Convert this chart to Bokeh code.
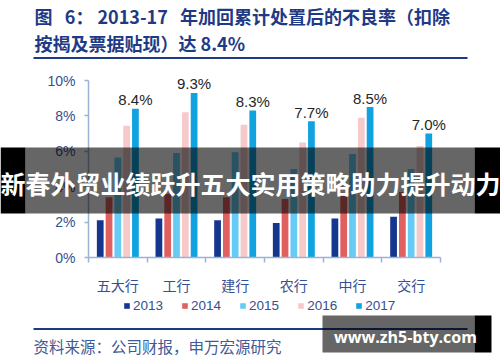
from bokeh.plotting import figure
from bokeh.models import (ColumnDataSource, FixedTicker, PrintfTickFormatter, CustomJSTickFormatter,
                          Label, BoxAnnotation, Legend, LegendItem, Range1d)
from bokeh.transform import dodge
from bokeh.core.properties import value
from bokeh.embed import file_html
from bokeh.resources import INLINE

# ---------------- data ----------------
banks = ["五大行", "工行", "建行", "农行", "中行", "交行"]
years = ["2013", "2014", "2015", "2016", "2017"]
npl_2013 = [2.1, 2.2, 2.1, 1.95, 2.2, 2.3]
npl_2014 = [3.4, 3.6, 3.4, 3.3, 3.6, 3.7]
npl_2015 = [5.65, 5.9, 5.95, 5.0, 5.85, 5.0]
npl_2016 = [7.45, 8.2, 7.5, 6.5, 7.9, 6.3]
npl_2017 = [8.4, 9.3, 8.3, 7.7, 8.5, 7.0]
y_ticks = [0, 2, 4, 6, 8, 10]

NB = "\u00a0"
title_line1 = "图" + NB * 3 + "6：" + NB + "2013-17" + NB * 3 + "年加回累计处置后的不良率（扣除"
title_line2 = "按揭及票据贴现）达 8.4%"
source_text = "资料来源：公司财报，申万宏源研究"
banner_text = "新春外贸业绩跃升五大实用策略助力提升动力"
watermark_text = "www.zh5-bty.com"

colors = ["#14368E", "#E0605F", "#66CCF5", "#F6CACB", "#10A3E0"]
keys = ["v2013", "v2014", "v2015", "v2016", "v2017"]
offsets = [-0.3, -0.15, 0.0, 0.15, 0.3]

src = ColumnDataSource(dict(
    x=[i + 0.5 for i in range(len(banks))],
    v2013=npl_2013, v2014=npl_2014, v2015=npl_2015, v2016=npl_2016, v2017=npl_2017,
    lbl=["%.1f%%" % v for v in npl_2017],
))

W, H = 500, 362
# plot area placement (pixels from top-left of canvas)
AX_L, AX_R = 88.0, 440.0      # x axis spans 0..6
Y0_PX, Y10_PX = 257.0, 80.0   # y = 0 and y = 10
xu = (AX_R - AX_L) / len(banks)
yu = (Y0_PX - Y10_PX) / 10.0

p = figure(width=W, height=H, output_backend="svg", toolbar_location=None,
           x_range=Range1d(-AX_L / xu, (W - AX_L) / xu),
           y_range=Range1d(-(H - Y0_PX) / yu, Y0_PX / yu),
           min_border=0, min_border_left=0, min_border_right=0,
           min_border_top=0, min_border_bottom=0)
p.title.visible = False
p.outline_line_color = None
p.xgrid.visible = False
p.ygrid.visible = False
p.background_fill_color = "white"
p.border_fill_color = "white"

axis_col = "#9CB2D3"
lab_col = "#34508F"

yax = p.yaxis[0]
yax.fixed_location = 0
yax.ticker = FixedTicker(ticks=y_ticks, minor_ticks=[])
yax.formatter = PrintfTickFormatter(format="%d%%")
yax.bounds = (0, 10)
yax.axis_line_color = axis_col
yax.axis_line_width = 1.5
yax.major_tick_line_color = axis_col
yax.major_tick_line_width = 1.5
yax.major_tick_out = 4
yax.major_tick_in = 0
yax.minor_tick_line_color = None
yax.major_label_standoff = 9
yax.major_label_text_font = "Liberation Sans"
yax.major_label_text_font_size = "14px"
yax.major_label_text_color = lab_col

xax = p.xaxis[0]
xax.fixed_location = 0
xax.bounds = (0, len(banks))
xax.ticker = FixedTicker(ticks=[i + 0.5 for i in range(len(banks))],
                         minor_ticks=list(range(len(banks) + 1)))
xax.formatter = CustomJSTickFormatter(args=dict(names=banks),
                                      code="return names[Math.floor(tick)];")
xax.axis_line_color = axis_col
xax.axis_line_width = 1.5
xax.major_tick_line_color = None
xax.major_tick_out = 0
xax.major_tick_in = 0
xax.minor_tick_line_color = axis_col
xax.minor_tick_line_width = 1.5
xax.minor_tick_out = 5
xax.minor_tick_in = 0
xax.major_label_standoff = 12
xax.major_label_text_font = "Noto Sans CJK SC"
xax.major_label_text_font_size = "14px"
xax.major_label_text_color = lab_col

items = []
for yr, col, off, key in zip(years, colors, offsets, keys):
    r = p.vbar(x=dodge("x", off, range=p.x_range), top=key, width=0.115, bottom=0,
               source=src, fill_color=col, line_color=None)
    items.append(LegendItem(label=yr, renderers=[r]))

p.text(x=dodge("x", 0.3, range=p.x_range), y="v2017", text="lbl", source=src,
       text_align="center", text_baseline="alphabetic", y_offset=-9,
       text_font=value("Liberation Sans"), text_font_size="15px", text_color="#262626")


def sx(px):
    return px


def sy(py):
    return H - py


legend = Legend(items=items, orientation="horizontal", location=(sx(123), sy(313)),
                glyph_width=7, glyph_height=7, label_height=16, label_width=20,
                label_standoff=3, spacing=18, padding=0, margin=0,
                border_line_color=None, background_fill_alpha=0,
                label_text_font="Liberation Sans", label_text_font_size="13.5px",
                label_text_color=lab_col)
p.add_layout(legend, "center")


def box(x0, x1, y0, y1, color, alpha):
    b = BoxAnnotation(left=sx(x0), right=sx(x1), top=sy(y0), bottom=sy(y1),
                      left_units="screen", right_units="screen",
                      top_units="screen", bottom_units="screen",
                      fill_color=color, fill_alpha=alpha, line_color=None, level="overlay")
    p.add_layout(b)


def label(px, py, text, font, size, color, style="normal", align="left"):
    lb = Label(x=sx(px), y=sy(py), x_units="screen", y_units="screen", text=text,
               text_font=font, text_font_size=size, text_color=color, text_font_style=style,
               text_align=align, text_baseline="middle", level="overlay")
    p.add_layout(lb)


title_col = "#1F3A85"
label(34, 15.5, title_line1, "Noto Sans CJK SC", "18px", title_col, "bold")
label(34, 42, title_line2, "Noto Sans CJK SC", "18px", title_col, "bold")
box(33, 467, 56.5, 58.5, title_col, 1.0)
box(33, 467, 327.5, 329.5, title_col, 1.0)
label(33, 345.5, source_text, "Noto Sans CJK SC", "15.5px", "#3F5A96")

# overlay banner
box(0, 25, 147, 213, "black", 1.0)
box(25, 474, 147, 213, "black", 0.6)
box(474, 500, 147, 213, "black", 1.0)
label(250, 182, banner_text, "Noto Sans CJK SC", "25px", "white", "bold", "center")

# watermark
box(322, 474, 315, 352, "black", 0.6)
box(474, 491, 315, 352, "black", 1.0)
label(405, 336.5, watermark_text, "Open Sans", "16px", "white", "bold", "center")

open("out.html", "w").write(file_html(p, INLINE))
